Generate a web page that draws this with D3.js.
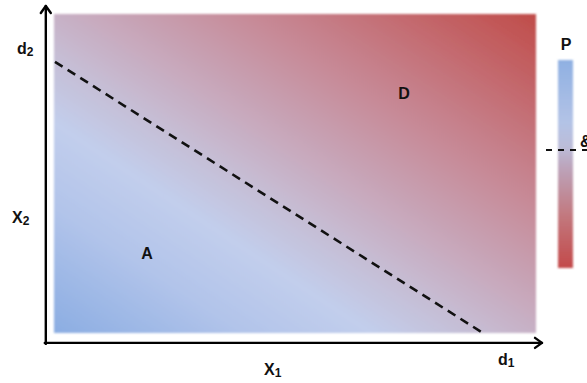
<!DOCTYPE html>
<meta charset="utf-8">
<head>
  <style>
    body { margin: 0; background: #fff; }
    .lbl { font-family: "Liberation Sans", Arial, sans-serif; font-weight: bold; fill: #111; }
  </style>
  <script src="https://cdn.jsdelivr.net/npm/d3@7"></script>
</head>
<body>
<script>
// decision space: x1 and x2 both run 0..1
var boundary = [{x: 0.002, y: 0.85}, {x: 0.89, y: 0.0}];
var regionLabels = ["A", "D"];
var regionX = [0.193, 0.726];
var regionY = [0.25, 0.75];
var fieldColors = ["#8badE2", "#b2c4ea", "#c2ceec", "#c6bdd4", "#c8abbf", "#c6808b", "#c04c49"];
var fieldStops = [0, 0.2, 0.33, 0.44, 0.53, 0.75, 1];
var barColors = ["#8fb0e2", "#b3c3e6", "#bcbcd8", "#bca7bf", "#c2787e", "#c3494a"];
var barStops = [0, 0.3, 0.42, 0.5, 0.75, 1];
var axisOrigin = [-0.017, -0.031];

var width = 587, height = 383;
var svg = d3.select("body").append("svg")
    .attr("width", width)
    .attr("height", height);

var x = d3.scaleLinear().domain([0, 1]).range([54, 536]);
var y = d3.scaleLinear().domain([0, 1]).range([333, 14]);

var defs = svg.append("defs");
var grad = defs.append("linearGradient")
    .attr("id", "field")
    .attr("x1", 0).attr("y1", 1).attr("x2", 1).attr("y2", 0);
grad.selectAll("stop")
    .data(fieldColors)
    .enter().append("stop")
    .attr("offset", function(d, i) { return fieldStops[i]; })
    .attr("stop-color", function(d) { return d; });

var bgrad = defs.append("linearGradient")
    .attr("id", "bar")
    .attr("x1", 0).attr("y1", 0).attr("x2", 0).attr("y2", 1);
bgrad.selectAll("stop")
    .data(barColors)
    .enter().append("stop")
    .attr("offset", function(d, i) { return barStops[i]; })
    .attr("stop-color", function(d) { return d; });

defs.append("filter").attr("id", "soft")
  .append("feGaussianBlur").attr("stdDeviation", 0.8);

// the shaded field
svg.append("rect")
    .attr("x", x(0))
    .attr("y", y(1))
    .attr("width", x(1) - x(0))
    .attr("height", y(0) - y(1))
    .attr("fill", "url(#field)")
    .attr("filter", "url(#soft)");

// decision boundary
var line = d3.line()
    .x(function(d) { return x(d.x); })
    .y(function(d) { return y(d.y); });
svg.append("path")
    .datum(boundary)
    .attr("d", line)
    .attr("fill", "none")
    .attr("stroke", "#111")
    .attr("stroke-width", 2.6)
    .attr("stroke-dasharray", "9,6");

// axes with open arrow heads
var ox = x(axisOrigin[0]), oy = y(axisOrigin[1]);
var axes = svg.append("g")
    .attr("fill", "none")
    .attr("stroke", "#000")
    .attr("stroke-width", 2.4)
    .attr("stroke-linecap", "round")
    .attr("stroke-linejoin", "round");
axes.append("path").attr("d", "M" + (ox - 1) + "," + oy + "H" + (x(1) + 6));
axes.append("path").attr("d", "M" + ox + "," + (oy + 1) + "V" + (y(1) - 8));
var hx = x(1) + 6, vy = y(1) - 8;
axes.append("path").attr("d", "M" + (hx - 7) + "," + (oy - 5) + "L" + hx + "," + oy + "L" + (hx - 7) + "," + (oy + 5));
axes.append("path").attr("d", "M" + (ox - 5) + "," + (vy + 7) + "L" + ox + "," + vy + "L" + (ox + 5) + "," + (vy + 7));

// region labels
svg.selectAll(".region")
    .data(regionLabels)
    .enter().append("text")
    .attr("class", "lbl region")
    .attr("x", function(d, i) { return x(regionX[i]); })
    .attr("y", function(d, i) { return y(regionY[i]); })
    .attr("text-anchor", "middle")
    .attr("dy", "0.35em")
    .style("font-size", "16px")
    .text(function(d) { return d; });

function subLabel(tx, ty, main, sub) {
  var t = svg.append("text")
      .attr("class", "lbl")
      .attr("x", tx).attr("y", ty)
      .style("font-size", "16px");
  t.append("tspan").text(main);
  t.append("tspan").attr("dy", 2).style("font-size", "12px").text(sub);
}
subLabel(12, 223, "X", "2");
subLabel(264, 375, "X", "1");
subLabel(17, 54, "d", "2");
subLabel(498, 365, "d", "1");

// colour bar on the right
svg.append("rect")
    .attr("x", 558).attr("y", 60)
    .attr("width", 15).attr("height", 208)
    .attr("fill", "url(#bar)")
    .attr("filter", "url(#soft)");
svg.append("text")
    .attr("class", "lbl")
    .attr("x", 566).attr("y", 50)
    .attr("text-anchor", "middle")
    .style("font-size", "16px")
    .text("P");
svg.append("text")
    .attr("class", "lbl")
    .attr("x", 580).attr("y", 147)
    .style("font-size", "16px")
    .text("&");
svg.append("line")
    .attr("x1", 546).attr("x2", 590)
    .attr("y1", 150).attr("y2", 150)
    .attr("stroke", "#111")
    .attr("stroke-width", 2.2)
    .attr("stroke-dasharray", "6,6");
</script>
</body>
